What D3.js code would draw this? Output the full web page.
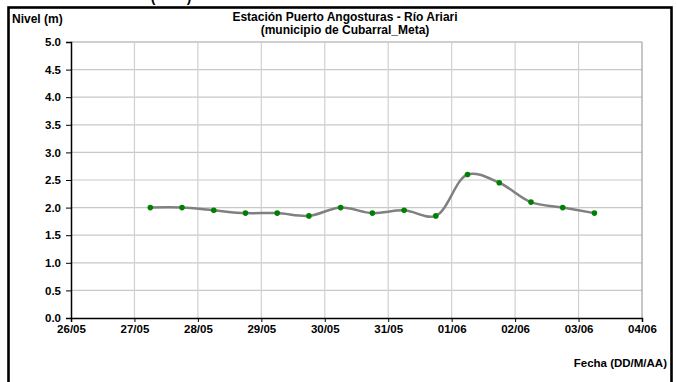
<!DOCTYPE html>
<html>
<head>
<meta charset="utf-8">
<script src="https://cdn.jsdelivr.net/npm/d3@7"></script>
<style>
  html, body { margin: 0; padding: 0; background: #fff; }
  svg { display: block; font-family: "Liberation Sans", Arial, sans-serif; }
</style>
</head>
<body>
<svg id="chart" width="677" height="382"></svg>
<script>
// ---- data ----
const dates = [
  "2011-05-27 06:00", "2011-05-27 18:00",
  "2011-05-28 06:00", "2011-05-28 18:00",
  "2011-05-29 06:00", "2011-05-29 18:00",
  "2011-05-30 06:00", "2011-05-30 18:00",
  "2011-05-31 06:00", "2011-05-31 18:00",
  "2011-06-01 06:00", "2011-06-01 18:00",
  "2011-06-02 06:00", "2011-06-02 18:00",
  "2011-06-03 06:00"
];
const nivel = [2.0, 2.0, 1.95, 1.9, 1.9, 1.85, 2.0, 1.9, 1.95, 1.85, 2.6, 2.45, 2.1, 2.0, 1.9];
const xDomain = ["2011-05-26 00:00", "2011-06-04 00:00"];
const yTicks = [0, 0.5, 1, 1.5, 2, 2.5, 3, 3.5, 4, 4.5, 5];
const titleLines = ["Estación Puerto Angosturas - Río Ariari", "(municipio de Cubarral_Meta)"];
const yLabel = "Nivel (m)";
const xLabel = "Fecha (DD/M/AA)";

// ---- drawing ----
const parse = d3.utcParse("%Y-%m-%d %H:%M");
const data = dates.map((d, i) => ({ t: parse(d), v: nivel[i] }));

const svg = d3.select("#chart");
const plot = { left: 71, right: 642, top: 42, bottom: 318 };

const x = d3.scaleUtc().domain(xDomain.map(parse)).range([plot.left, plot.right]);
const y = d3.scaleLinear().domain([0, 5]).range([plot.bottom, plot.top]);

// outer frame
svg.append("rect")
  .attr("x", 8.5).attr("y", 7.5)
  .attr("width", 663).attr("height", 400)
  .attr("fill", "none").attr("stroke", "#000").attr("stroke-width", 2.6);

// cropped parentheses (bottom of text lying above the picture)
[["(", 153], [")", 189]].forEach(([ch, px]) => {
  svg.append("text")
    .attr("x", px).attr("y", 2)
    .attr("text-anchor", "middle")
    .attr("font-size", 14).attr("font-weight", "bold")
    .text(ch);
});

const dayTicks = d3.utcDay.range(parse(xDomain[0]), d3.utcDay.offset(parse(xDomain[1]), 1));

// grid
svg.append("g")
  .selectAll("line")
  .data(yTicks.slice(1))
  .join("line")
  .attr("x1", plot.left).attr("x2", plot.right)
  .attr("y1", d => y(d)).attr("y2", d => y(d))
  .attr("stroke", d => d === 5 ? "#a0a0a0" : "#c8c8c8").attr("stroke-width", 1.2);

svg.append("g")
  .selectAll("line")
  .data(dayTicks.slice(1))
  .join("line")
  .attr("x1", d => x(d)).attr("x2", d => x(d))
  .attr("y1", plot.top).attr("y2", plot.bottom)
  .attr("stroke", (d, i) => i === dayTicks.length - 2 ? "#a0a0a0" : "#d0d0d0").attr("stroke-width", 1.2);

// axes
const yAxis = d3.axisLeft(y).tickValues(yTicks).tickFormat(d3.format(".1f")).tickSize(5).tickPadding(5);
const gy = svg.append("g").attr("transform", `translate(${plot.left},0)`).call(yAxis);
gy.select(".domain").attr("stroke", "#000").attr("stroke-width", 1.5);
gy.selectAll(".tick line").attr("stroke", "#000");
gy.selectAll(".tick text")
  .attr("font-family", "Liberation Sans, Arial, sans-serif")
  .attr("font-size", 11.5).attr("font-weight", "bold").attr("fill", "#000");

const xAxis = d3.axisBottom(x).tickValues(dayTicks).tickFormat(d3.utcFormat("%d/%m")).tickSize(4).tickPadding(3);
const gx = svg.append("g").attr("transform", `translate(0,${plot.bottom})`).call(xAxis);
gx.select(".domain").attr("stroke", "#000").attr("stroke-width", 1.5);
gx.selectAll(".tick line").attr("stroke", "#000");
gx.selectAll(".tick text")
  .attr("font-family", "Liberation Sans, Arial, sans-serif")
  .attr("font-size", 11.5).attr("font-weight", "bold").attr("fill", "#000");

// line
const line = d3.line().x(d => x(d.t)).y(d => y(d.v)).curve(d3.curveCatmullRom.alpha(0.5));
svg.append("path")
  .datum(data)
  .attr("d", line)
  .attr("fill", "none")
  .attr("stroke", "#808080")
  .attr("stroke-width", 2.5);

// markers
svg.append("g")
  .selectAll("circle")
  .data(data)
  .join("circle")
  .attr("cx", d => x(d.t)).attr("cy", d => y(d.v))
  .attr("r", 2.8)
  .attr("fill", "#008000");

// titles
const title = svg.append("text")
  .attr("text-anchor", "middle")
  .attr("font-size", 12).attr("font-weight", "bold");
titleLines.forEach((t, i) => {
  title.append("tspan").attr("x", 345).attr("y", 21 + i * 12.5).text(t);
});

svg.append("text")
  .attr("x", 12).attr("y", 23)
  .attr("font-size", 12).attr("font-weight", "bold")
  .text(yLabel);

svg.append("text")
  .attr("x", 667).attr("y", 367)
  .attr("text-anchor", "end")
  .attr("font-size", 11.5).attr("font-weight", "bold")
  .text(xLabel);
</script>
</body>
</html>
